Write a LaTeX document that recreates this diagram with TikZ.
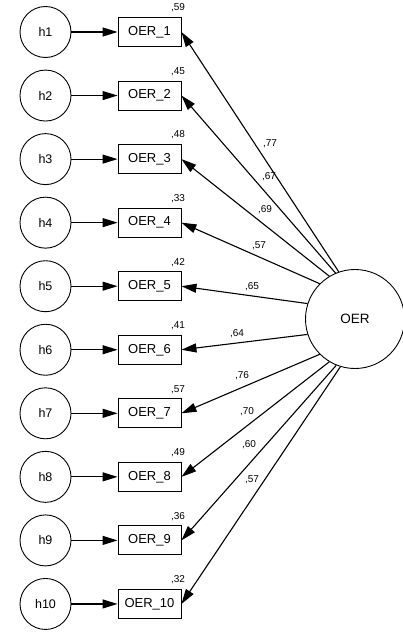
\documentclass[tikz,border=0pt]{standalone}
\usepackage{fontspec}
\setmainfont{Liberation Sans}
\usetikzlibrary{arrows.meta}
\begin{document}
\begin{tikzpicture}[x=1pt,y=-1pt,
  err/.style={draw,circle,minimum size=51pt,inner sep=0pt,line width=0.9pt,font=\fontsize{12.5}{12.5}\selectfont},
  obs/.style={draw,rectangle,minimum width=63pt,minimum height=29pt,inner sep=0pt,line width=0.9pt,font=\fontsize{13}{13}\selectfont},
  lat/.style={draw,circle,minimum size=99pt,inner sep=0pt,line width=0.9pt,font=\fontsize{13.5}{13.5}\selectfont},
  arr/.style={-{Triangle[length=15pt,width=9pt]},line width=1.1pt},
  num/.style={font=\fontsize{10}{10}\selectfont,inner sep=0pt}]
\useasboundingbox (0,0) rectangle (403,632);
\node[lat] (OER) at (355,319) {OER};
\foreach \i/\r/\ang/\lx/\ly/\w in {
  1/59/109/270/144/77,
  2/45/113/269/177/67,
  3/48/121/265/210/69,
  4/33/135/259/246/57,
  5/42/162/252/287/65,
  6/41/198/237/334/64,
  7/57/225/242/376/76,
  8/49/239/247/412/70,
  9/36/248/249/445/60,
  10/32/253/252/480/57}{
  \pgfmathsetmacro{\yy}{32+(\i-1)*63.55}
  \node[err] (h\i) at (45.5,\yy) {h\i};
  \node[obs] (o\i) at (149.5,\yy) {OER\_\i};
  \node[num] (r\i) at (178,\yy-24) {,\r};
  \draw[arr] (h\i) -- (o\i);
  \draw[arr] (OER.\ang) -- (o\i.east);
  \node[num] (w\i) at (\lx,\ly) {,\w};
}
\end{tikzpicture}
\end{document}
